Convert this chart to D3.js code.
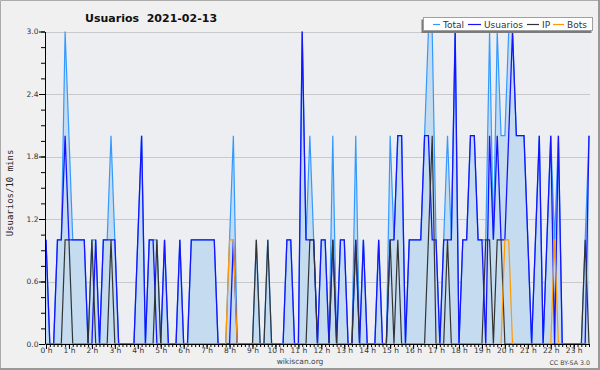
<!DOCTYPE html>
<html><head><meta charset="utf-8">
<script src="https://cdn.jsdelivr.net/npm/d3@7"></script>
<style>html,body{margin:0;padding:0;background:#f0f0f0;} svg{display:block;}</style>
</head><body>
<svg id="chart" width="600" height="370"></svg>
<script>
const titleText = "Usuarios  2021-02-13";
const yLabel = "Usuarios/10 mins";
const hourLabels = d3.range(24).map(h => h + " h");
const yTicks = [0, 0.6, 1.2, 1.8, 2.4, 3.0];
const seriesNames = ["Total", "Usuarios", "IP", "Bots"];

const total = [1,0,0,1,1,3,2,1,1,1, 1,0,1,1,0,1,1,2,1,0, 0,0,0,0,1,2,0,1,1,1, 0,1,0,0,0,1,0,0,1,1,
  1,1,1,1,1,0,0,0,1,2, 0,0,0,0,0,1,0,0,1,0, 0,0,0,1,1,0,0,3,1,2, 1,0,1,1,0,2,0,1,1,0,
  0,2,0,1,0,0,0,1,0,0, 2,1,2,2,0,1,1,1,1,2, 3,3,1,0,1,2,1,3,0,1, 1,2,2,1,1,1,3,1,3,2,
  2,3,3,2,2,2,1,0,1,2, 0,1,2,1,2,0,0,0,0,0, 0,1,2];
const usuarios = [1,0,0,1,1,2,1,1,1,1, 1,0,0,1,0,1,1,1,1,0, 0,0,0,0,1,2,0,1,1,0, 0,1,0,0,0,1,0,0,1,1,
  1,1,1,1,1,0,0,0,0,1, 0,0,0,0,0,0,0,0,0,0, 0,0,0,1,1,0,0,3,1,1, 1,0,1,1,0,1,0,1,1,0,
  0,1,0,1,0,0,0,1,0,0, 1,1,2,2,0,1,1,1,1,2, 2,1,1,0,1,1,1,3,0,1, 1,2,2,1,1,0,2,1,2,1,
  1,2,3,2,2,2,1,0,1,2, 0,1,2,0,2,0,0,0,0,0, 0,0,2];
const ip = [0,0,0,0,0,1,1,0,0,0, 0,0,1,0,0,0,0,1,0,0, 0,0,0,0,0,0,0,0,0,1, 0,0,0,0,0,0,0,0,0,0,
  0,0,0,0,0,0,0,0,0,0, 0,0,0,0,0,1,0,0,1,0, 0,0,0,0,0,0,0,0,0,1, 1,0,0,0,0,1,0,0,0,0,
  0,1,0,0,0,0,0,0,0,0, 1,0,1,0,0,0,0,0,0,0, 1,2,0,0,0,1,0,0,0,0, 0,0,0,0,0,1,1,0,1,1,
  0,0,0,0,0,0,0,0,0,0, 0,0,0,0,0,0,0,0,0,0, 0,1,0];
const bots = [0,0,0,0,0,0,0,0,0,0, 0,0,0,0,0,0,0,0,0,0, 0,0,0,0,0,0,0,0,0,0, 0,0,0,0,0,0,0,0,0,0,
  0,0,0,0,0,0,0,0,1,1, 0,0,0,0,0,0,0,0,0,0, 0,0,0,0,0,0,0,0,0,0, 0,0,0,0,0,0,0,0,0,0,
  0,0,0,0,0,0,0,0,0,0, 0,0,0,0,0,0,0,0,0,0, 0,0,0,0,0,0,0,0,0,0, 0,0,0,0,0,0,0,0,0,0,
  1,1,0,0,0,0,0,0,0,0, 0,0,0,1,0,0,0,0,0,0, 0,0,0];

const colors = {Total:"#3399ff", Usuarios:"#1414ff", IP:"#333333", Bots:"#ff9900"};
const fillColor = "#c5dcf0";

const svg = d3.select("#chart");
const x = d3.scaleLinear().domain([0, total.length - 1]).range([46, 589]);
const y = d3.scaleLinear().domain([0, 3]).range([344, 31.5]);

svg.append("rect").attr("width", 600).attr("height", 370).attr("fill", "#f0f0f0");
svg.append("path").attr("d", "M0.5,370V0.5H600").attr("stroke", "#aaaaaa").attr("fill", "none");
svg.append("path").attr("d", "M0,369H599V0").attr("stroke", "#999999").attr("stroke-width", 2).attr("fill", "none");

// plot background
svg.append("rect").attr("x", 46).attr("y", Math.round(y(3)))
  .attr("width", 590 - 46).attr("height", 344 - Math.round(y(3))).attr("fill", "#eceef1");

// grid
svg.append("g").selectAll("line").data(yTicks.filter(d => d > 0)).join("line")
  .attr("x1", 46).attr("x2", 590)
  .attr("y1", d => Math.round(y(d)) + 0.5).attr("y2", d => Math.round(y(d)) + 0.5)
  .attr("stroke", "#c9c9c9").attr("stroke-width", 1);

// area of total
svg.append("path").datum(total)
  .attr("d", d3.area().x((d, i) => x(i)).y0(y(0)).y1(d => y(d)))
  .attr("fill", fillColor);

const lineGen = d3.line().x((d, i) => x(i)).y(d => y(d));
const seriesData = {Total: total, Usuarios: usuarios, IP: ip, Bots: bots};
seriesNames.forEach(n => {
  svg.append("path").datum(seriesData[n]).attr("d", lineGen)
    .attr("fill", "none").attr("stroke", colors[n])
    .attr("stroke-width", n === "Usuarios" ? 1.3 : 1.2)
    .attr("stroke-linejoin", "miter");
});

// Y axis
const yAxisG = svg.append("g").attr("transform", "translate(45,0)");
yAxisG.call(d3.axisLeft(y).tickValues(d3.range(0, 3.0001, 0.15)).tickSize(4).tickSizeOuter(0).tickFormat(""));
yAxisG.append("g").call(d3.axisLeft(y).tickValues(yTicks).tickSize(6).tickSizeOuter(0).tickFormat(d3.format(".1f")))
  .call(g => g.select(".domain").remove());
yAxisG.selectAll("line,path").attr("stroke", "#000");
yAxisG.selectAll("text").attr("x", -6.5).attr("font-family", "DejaVu Sans").attr("font-size", 7.5).attr("fill", "#333");

// X axis
const xAxisG = svg.append("g").attr("transform", "translate(0,344)");
xAxisG.call(d3.axisBottom(x).tickValues(d3.range(0, total.length)).tickSize(3).tickSizeOuter(0).tickFormat(""));
xAxisG.append("g").call(d3.axisBottom(x).tickValues(d3.range(0, 24).map(h => h * 6)).tickSize(5).tickSizeOuter(0)
  .tickFormat(i => hourLabels[i / 6]))
  .call(g => g.select(".domain").remove());
xAxisG.selectAll("line,path").attr("stroke", "#000");
xAxisG.selectAll("text").attr("y", 3.5).attr("font-family", "DejaVu Sans").attr("font-size", 7.5).attr("fill", "#333");

// title
svg.append("text").attr("x", 85).attr("y", 22).attr("font-family", "DejaVu Sans").attr("font-weight", "bold")
  .attr("font-size", 11).attr("fill", "#111").style("white-space", "pre").text(titleText);

// y label
svg.append("text").attr("transform", "translate(13,193) rotate(-90)").attr("text-anchor", "middle")
  .attr("font-family", "DejaVu Sans Mono").attr("font-size", 9).attr("fill", "#222").text(yLabel);

// footer
svg.append("text").attr("x", 300).attr("y", 364).attr("text-anchor", "middle")
  .attr("font-family", "DejaVu Sans").attr("font-size", 7.5).attr("fill", "#444").text("wikiscan.org");
svg.append("text").attr("x", 590).attr("y", 365).attr("text-anchor", "end")
  .attr("font-family", "DejaVu Sans").attr("font-size", 6.3).attr("fill", "#444").text("CC BY-SA 3.0");

// legend
const lg = svg.append("g");
lg.append("rect").attr("x", 421.5).attr("y", 19.5).attr("width", 170).attr("height", 13.5).attr("fill", "#7a7a7a");
lg.append("rect").attr("x", 423.5).attr("y", 17.5).attr("width", 169).attr("height", 13).attr("fill", "#ffffff")
  .attr("stroke", "#a0a0a0").attr("stroke-width", 1);
const legendItems = [
  {name: "Total", lx: 433, tx: 443},
  {name: "Usuarios", lx: 468, tx: 484},
  {name: "IP", lx: 527, tx: 542},
  {name: "Bots", lx: 553, tx: 567}
];
legendItems.forEach(it => {
  lg.append("line").attr("x1", it.lx).attr("x2", it.tx - 3).attr("y1", 24.5).attr("y2", 24.5)
    .attr("stroke", colors[it.name]).attr("stroke-width", 1.2);
  lg.append("text").attr("x", it.tx).attr("y", 27.5).attr("font-family", "DejaVu Sans")
    .attr("font-size", 9).attr("fill", "#333").text(it.name);
});
</script>
</body></html>
